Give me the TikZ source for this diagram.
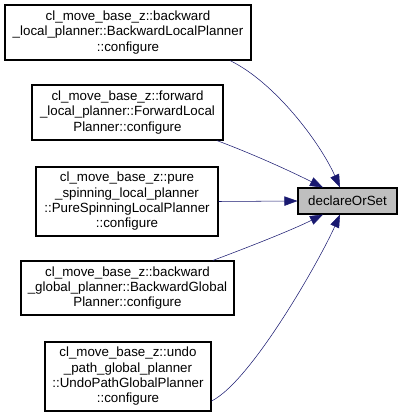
\documentclass[tikz,border=0pt]{standalone}
\usepackage{fontspec}
\setmainfont{Liberation Sans}
\usepackage{xcolor}
\usetikzlibrary{arrows.meta}

\definecolor{edgeblue}{RGB}{25,25,112}
\definecolor{tgtgray}{RGB}{191,191,191}

\begin{document}
\begin{tikzpicture}[x=0.75pt,y=-0.75pt,
    fn/.style={draw,thick,align=center,inner sep=0pt,
      font=\fontsize{10}{11.5}\selectfont},
    call/.style={draw=edgeblue,thin,
      -{Triangle[length=9.75pt,width=7pt,fill=edgeblue]}}]
  \useasboundingbox (0,0) rectangle (403,418);
  % callers
  \node[fn,minimum width=184.5pt,minimum height=41.25pt] (bwdlocal) at (128,32.5)
    {cl\_move\_base\_z::backward\\\_local\_planner::BackwardLocalPlanner\\::configure};
  \node[fn,minimum width=143.25pt,minimum height=41.25pt] (fwdlocal) at (127.5,112.5)
    {cl\_move\_base\_z::forward\\\_local\_planner::ForwardLocal\\Planner::configure};
  \node[fn,minimum width=136.5pt,minimum height=51.75pt] (purespin) at (127,201.5)
    {cl\_move\_base\_z::pure\\\_spinning\_local\_planner\\::PureSpinningLocalPlanner\\::configure};
  \node[fn,minimum width=159.75pt,minimum height=40.5pt] (bwdglobal) at (127.5,288)
    {cl\_move\_base\_z::backward\\\_global\_planner::BackwardGlobal\\Planner::configure};
  \node[fn,minimum width=124.5pt,minimum height=51.75pt] (undopath) at (128,376.5)
    {cl\_move\_base\_z::undo\\\_path\_global\_planner\\::UndoPathGlobalPlanner\\::configure};
  % callee
  \node[fn,fill=tgtgray,minimum width=74.25pt,minimum height=19.5pt] (declare) at (347.5,201)
    {declareOrSet};
  % calls
  \draw[call] ([xshift=76.5pt]bwdlocal.south) .. controls +(45,22) and +(-20,-45) .. ([xshift=-5.6pt]declare.north);
  \draw[call] ([xshift=67pt]fwdlocal.south) .. controls +(40,15) and +(-30,-15) .. ([xshift=-18.4pt]declare.north);
  \draw[call] (purespin.east) -- (declare.west);
  \draw[call] ([xshift=64pt]bwdglobal.north) .. controls +(40,-15) and +(-30,15) .. ([xshift=-18.4pt]declare.south);
  \draw[call] ([yshift=-18.4pt]undopath.east) .. controls +(40,-20) and +(-20,45) .. ([xshift=-5.6pt]declare.south);
\end{tikzpicture}
\end{document}
